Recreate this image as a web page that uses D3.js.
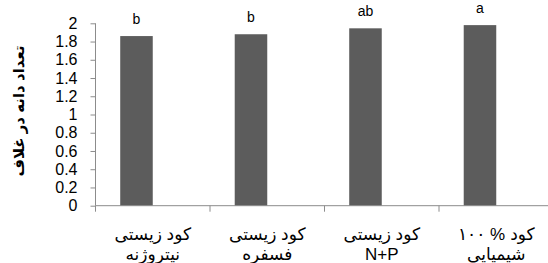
<!DOCTYPE html>
<html><head><meta charset="utf-8">
<script src="https://cdn.jsdelivr.net/npm/d3@7"></script>
<style>
html,body{margin:0;padding:0;background:#fff;}
svg{display:block;}
text{font-family:"Liberation Sans","DejaVu Sans",sans-serif;}
</style></head>
<body>
<svg id="chart" width="548" height="263"></svg>
<script>
const categories = ["nitro","phos","np","chem"];
// line-1 labels, written as visual segments from left to right
const labelLine1 = [["کود زیستی"],["کود زیستی"],["کود زیستی"],["۱۰۰ %","کود"]];
const labelLine2 = ["نیتروژنه","فسفره","N+P","شیمیایی"];
const values = [1.86, 1.88, 1.945, 1.98];
const letters = ["b","b","ab","a"];
const yTicks = [0,0.2,0.4,0.6,0.8,1,1.2,1.4,1.6,1.8,2];
const yTitle = "تعداد دانه در غلاف";

const svg = d3.select("#chart");
const mLeft = 95.5, mRight = 553.5, mTop = 23.3, mBottom = 205.7;

const x0 = d3.scaleBand().domain(categories).range([mLeft, mRight]).paddingInner(0).paddingOuter(0);
const x1 = d3.scaleBand().domain(["v","_"]).range([0, x0.bandwidth()]).paddingInner(0).paddingOuter(0.76);
const y = d3.scaleLinear().domain([0, 2]).range([mBottom, mTop]);

// bars
svg.selectAll("rect.bar").data(values).enter().append("rect")
  .attr("class","bar")
  .attr("x",(d,i)=>x0(categories[i]) + x1("v"))
  .attr("width", x1.bandwidth())
  .attr("y", d=>y(d))
  .attr("height", d=>mBottom - y(d))
  .attr("fill","#5c5c5c");

// letters
svg.selectAll("text.let").data(letters).enter().append("text")
  .attr("x",(d,i)=>x0(categories[i]) + x1("v") + x1.bandwidth()/2)
  .attr("y",(d,i)=>y(values[i]) - 12.5)
  .attr("text-anchor","middle")
  .attr("font-size",14)
  .attr("fill","#000")
  .text(d=>d);

// y axis
const yAxis = d3.axisLeft(y).tickValues(yTicks).tickSize(5).tickPadding(13).tickFormat(d=>String(d));
const gy = svg.append("g").attr("transform",`translate(${mLeft},0)`).call(yAxis);
gy.select(".domain").attr("stroke","#8c8c8c").attr("d",`M0,${mBottom}V${mTop}`);
gy.selectAll(".tick line").attr("stroke","#8c8c8c");
gy.selectAll(".tick text").attr("font-size",16).attr("fill","#000")
  .style("font-family","'Liberation Sans Narrow','Liberation Sans',sans-serif");

// x axis
svg.append("line").attr("x1",mLeft).attr("x2",548).attr("y1",mBottom).attr("y2",mBottom).attr("stroke","#8c8c8c");
svg.selectAll("line.xt").data(categories).enter().append("line")
  .attr("x1",d=>x0(d)).attr("x2",d=>x0(d))
  .attr("y1",mBottom).attr("y2",mBottom+6).attr("stroke","#8c8c8c");

// x labels
const gap = 5;
const xl = svg.selectAll("g.xl").data(categories).enter().append("g")
  .attr("transform",d=>`translate(${x0(d)+x0.bandwidth()/2},0)`);
xl.each(function(d,i){
  const g = d3.select(this);
  const segs = labelLine1[i];
  const nodes = segs.map(s => g.append("text").attr("y",240).attr("font-size",17).attr("fill","#000").text(s));
  const widths = nodes.map(n => n.node().getComputedTextLength());
  const total = d3.sum(widths) + gap*(segs.length-1);
  let cx = -total/2;
  nodes.forEach((n,k)=>{ n.attr("x", cx + widths[k]/2).attr("text-anchor","middle"); cx += widths[k] + gap; });
  g.append("text").attr("y",260).attr("text-anchor","middle").attr("font-size",17).attr("fill","#000")
    .text(labelLine2[i]);
});

// y title
svg.append("text")
  .attr("transform","translate(24,111) rotate(-90)")
  .attr("text-anchor","middle")
  .attr("font-size",15).attr("font-weight","bold").attr("fill","#000")
  .text(yTitle);
</script>
</body></html>
